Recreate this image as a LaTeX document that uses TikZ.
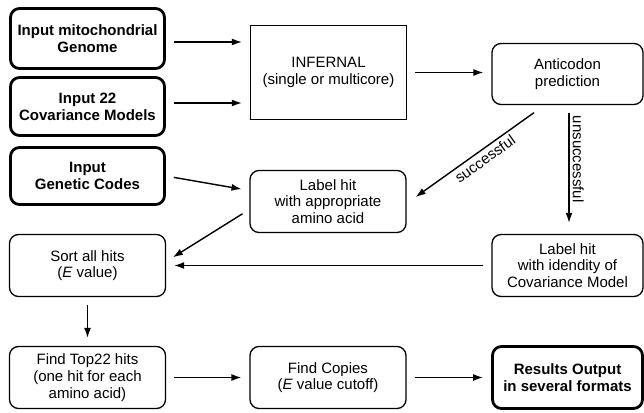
\documentclass[tikz,border=0pt]{standalone}
\usepackage{fontspec}
\setmainfont{Liberation Sans}
\usetikzlibrary{arrows.meta}
\begin{document}
\begin{tikzpicture}[x=1pt,y=-1pt,
        box/.style={draw,rounded corners=9pt,line width=1.3pt,minimum width=156pt,minimum height=62pt,align=center,font=\fontsize{15}{16.7}\selectfont},
        inbox/.style={box,line width=2.8pt,minimum width=154pt,font=\fontsize{15}{16.7}\selectfont\bfseries},
        flow/.style={-{Latex[length=10pt,width=7pt]},line width=1.4pt,shorten <=8pt,shorten >=8pt},
        lbl/.style={font=\fontsize{15}{16.7}\selectfont,inner sep=3pt}]
    \useasboundingbox (0,0) rectangle (644,412);
        \node[inbox,minimum height=60pt] (genome) at (87.5,38.5) {Input mitochondrial\\Genome};
        \node[inbox,minimum height=58pt] (models) at (87.5,106.5) {Input 22\\Covariance Models};
        \node[inbox,minimum height=57pt] (codes) at (87.5,176) {Input\\Genetic Codes};
        \node[box,rounded corners=0pt,minimum height=94pt] (infernal) at (328.5,72.5) {INFERNAL\\(single or multicore)};
        \node[box,minimum width=151pt,minimum height=61pt] (anticodon) at (567.5,74) {Anticodon\\prediction};
        \node[box] (aminolabel) at (328,201.5) {Label hit\\with appropriate\\amino acid};
        \node[box] (sortall) at (87.5,265.5) {Sort all hits\\(\textit{E} value)};
        \node[box,minimum width=151pt] (cmlabel) at (567.5,265.5) {Label hit\\with idendity of\\Covariance Model};
        \node[box] (top22) at (87.5,377.5) {Find Top22 hits\\(one hit for each\\amino acid)};
        \node[box] (copies) at (328,377.5) {Find Copies\\(\textit{E} value cutoff)};
        \node[inbox,minimum width=150pt,minimum height=62pt] (results) at (567.5,377.5) {Results Output\\in several formats};
        \draw[flow] ([yshift=-3.5pt]genome.east) -- ([yshift=-3.5pt]genome.east -| infernal.west);
        \draw[flow] ([yshift=3.5pt]models.east) -- ([yshift=3.5pt]models.east -| infernal.west);
        \draw[flow] (infernal.east) -- (infernal.east -| anticodon.west);
        \draw[flow] (codes.east) -- ([yshift=11pt]aminolabel.west);
        \draw[flow,shorten <=0pt,shorten >=0pt] ([xshift=-33.5pt,yshift=-7.5pt]anticodon.south) -- ([xshift=9pt,yshift=4.5pt]aminolabel.east)
            node[lbl,pos=0.46,rotate=35.6,anchor=north] {successful};
        \draw[flow,shorten >=11pt] ([xshift=1.5pt]anticodon.south) -- ([xshift=1.5pt]cmlabel.north)
            node[lbl,pos=0.42,rotate=-90,anchor=south] {unsuccessful};
        \draw[flow] ([yshift=-8pt]aminolabel.west) -- ([yshift=4pt]sortall.east);
        \draw[flow] (cmlabel.west) -- (sortall.east);
        \draw[flow] (sortall.south) -- (top22.north);
        \draw[flow] (top22.east) -- (copies.west);
        \draw[flow] (copies.east) -- (results.west);
    \end{tikzpicture}
\end{document}
